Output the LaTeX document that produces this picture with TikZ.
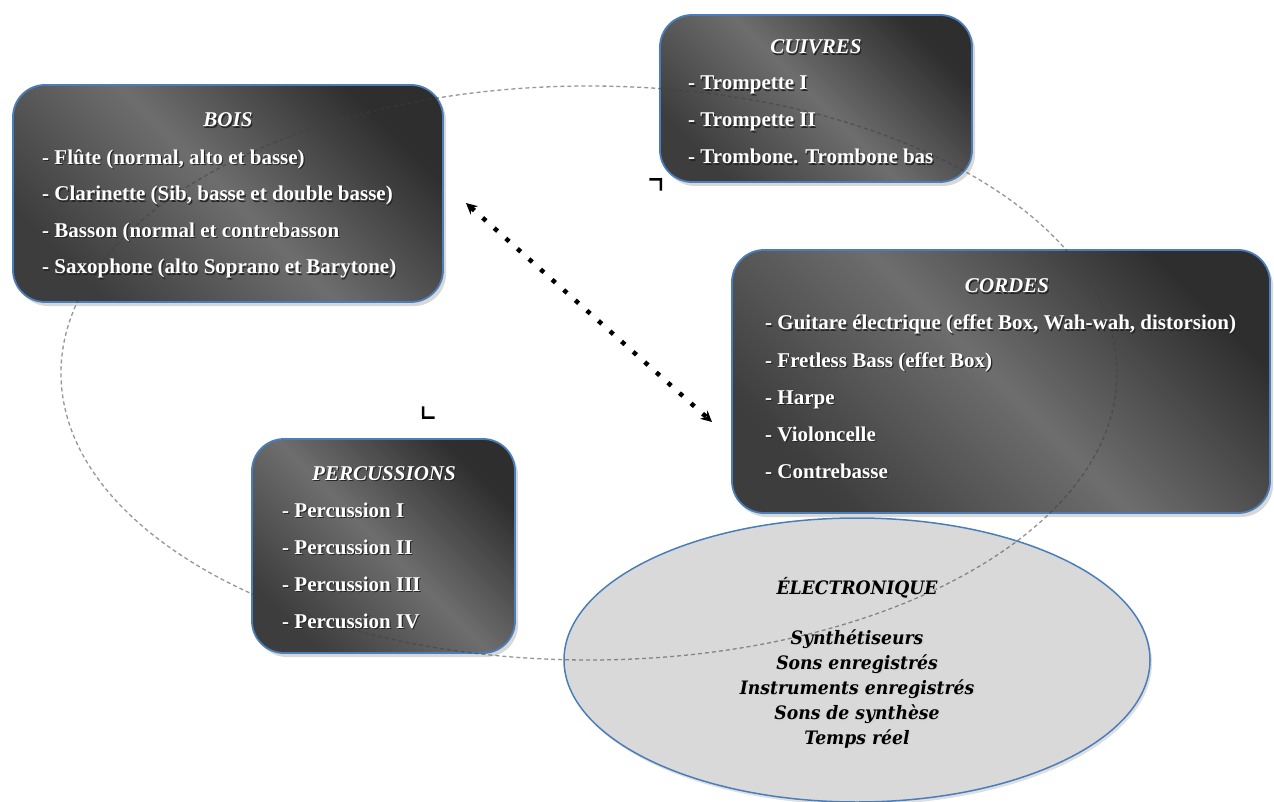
\documentclass[tikz,border=0pt]{standalone}
\usepackage{fontspec}
\setmainfont{Liberation Serif}
\newfontfamily\elfont[FakeStretch=0.93]{DejaVu Serif}
\usetikzlibrary{arrows.meta,shapes.geometric,shadows}
\definecolor{bordblue}{HTML}{4A7EBB}
\definecolor{elfill}{HTML}{D9D9D9}
\newcommand{\shtext}[1]{\makebox[0pt][l]{\raisebox{-1.5pt}{\hspace*{1.5pt}\textcolor{black!18}{#1}}}#1}
\newcommand{\whtext}[1]{\makebox[0pt][l]{\raisebox{-1.2pt}{\hspace*{1.2pt}\textcolor{black!85}{#1}}}#1}
\begin{document}
\begin{tikzpicture}[x=1pt,y=-1pt,
  famille/.style={draw=bordblue, line width=1.8pt, rounded corners=32pt,
    top color=black!82, bottom color=black!76, middle color=black!57, shading angle=-45,
    drop shadow={shadow xshift=3pt, shadow yshift=-4pt, opacity=0.3},
    inner sep=0pt, rectangle},
  titre/.style={font=\fontsize{21}{24}\selectfont\bfseries\itshape, text=white, anchor=base, inner sep=0pt},
  item/.style={font=\fontsize{21}{24}\selectfont\bfseries, text=white, anchor=base west, inner sep=0pt},
  eltxt/.style={font=\elfont\fontsize{18.5}{22}\selectfont\bfseries\itshape, text=black, anchor=base, inner sep=0pt},
  elbox/.style={ellipse, draw=bordblue, line width=1.5pt, fill=elfill, inner sep=0pt,
    drop shadow={shadow xshift=2pt, shadow yshift=-3pt, opacity=0.25}},
  cycle/.style={ellipse, draw=black!75, draw opacity=0.55, line width=1.3pt,
    dash pattern=on 4pt off 3pt, inner sep=0pt},
  dotarrow/.style={line width=4.5pt, dash pattern=on 4.5pt off 11pt,
    {Stealth[length=11pt,width=11pt]}-{Stealth[length=11pt,width=11pt]}},
  whitearrow/.style={white, line width=0.8pt,
    {Straight Barb[black,length=8pt,width=16pt,line width=2.5pt]}-{Straight Barb[black,length=8pt,width=16pt,line width=2.5pt]}}
]
\useasboundingbox (0,0) rectangle (1274,802);
\fill[white] (0,0) rectangle (1274,802);

% ELECTRONIQUE
\node[elbox, minimum width=586pt, minimum height=284pt] (elec) at (857,660) {};

% boxes
\node[famille, minimum width=430pt, minimum height=217pt] (bois) at (228,193.5) {};
\node[famille, minimum width=312pt, minimum height=167pt] (cuivres) at (816,98.5) {};
\node[famille, minimum width=538pt, minimum height=263pt] (cordes) at (1001,381.5) {};
\node[famille, minimum width=263pt, minimum height=214pt] (percu) at (383.5,546) {};

% big dashed cycle
\node[cycle, minimum width=1056pt, minimum height=574pt] (cyc) at (589,373) {};

% BOIS
\node[titre] (bois-t) at (228,127) {\whtext{BOIS}};
\foreach \t [count=\i] in {{- Flûte (normal, alto et basse)},{- Clarinette (Sib, basse et double basse)},{- Basson (normal et contrebasson},{- Saxophone (alto Soprano et Barytone)}}
  \node[item] (bois-\i) at (42,{164.5+36.5*(\i-1)}) {\whtext{\t}};

% CUIVRES
\node[titre] (cuivres-t) at (816,54) {\whtext{CUIVRES}};
\foreach \t [count=\i] in {{- Trompette I},{- Trompette II},{- Trombone. Trombone bas}}
  \node[item] (cuivres-\i) at (688,{90+37*(\i-1)}) {\whtext{\t}};

% CORDES
\node[titre] (cordes-t) at (1007,293) {\whtext{CORDES}};
\foreach \t [count=\i] in {{- Guitare électrique (effet Box, Wah-wah, distorsion)},{- Fretless Bass (effet Box)},{- Harpe},{- Violoncelle},{- Contrebasse}}
  \node[item] (cordes-\i) at (765,{330+37*(\i-1)}) {\whtext{\t}};

% PERCUSSIONS
\node[titre] (percu-t) at (384,480) {\whtext{PERCUSSIONS}};
\foreach \t [count=\i] in {{- Percussion I},{- Percussion II},{- Percussion III},{- Percussion IV}}
  \node[item] (percu-\i) at (282,{517+37*(\i-1)}) {\whtext{\t}};

% ELECTRONIQUE text
\node[eltxt] (elec-t) at (857,594) {\shtext{ÉLECTRONIQUE}};
\foreach \t [count=\i] in {{Synthétiseurs},{Sons enregistrés},{Instruments enregistrés},{Sons de synthèse},{Temps réel}}
  \node[eltxt] (elec-\i) at (857,{644+25*(\i-1)}) {\shtext{\t}};

% arrows
\coordinate (d1) at (466,203);
\coordinate (d2) at (712,422);
\draw[dotarrow] (d1) -- (d2);
\coordinate (w1) at (662,178);
\coordinate (w2) at (422,419);
\draw[whitearrow] (w1) -- (w2);
\end{tikzpicture}
\end{document}
